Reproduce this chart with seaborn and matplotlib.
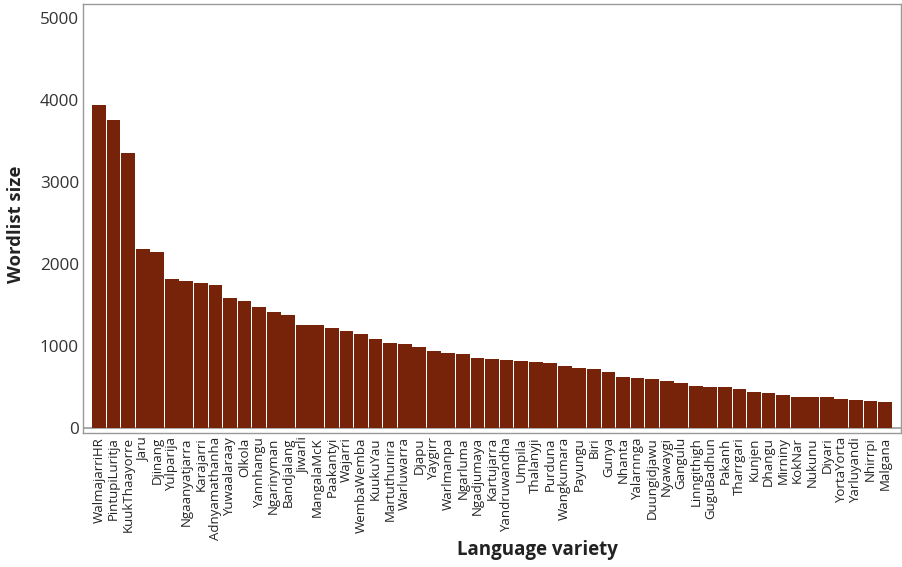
import matplotlib
matplotlib.use("Agg")
import matplotlib.pyplot as plt
import seaborn as sns
import pandas as pd

languages = ["WalmajarriHR", "PintupiLuritja", "KuukThaayorre", "Jaru", "Djinang", "Yulparija",
             "Ngaanyatjarra", "Karajarri", "Adnyamathanha", "Yuwaalaraay", "Olkola", "Yannhangu",
             "Ngarinyman", "Bandjalang", "Jiwarli", "MangalaMcK", "Paakantyi", "Wajarri",
             "WembaWemba", "KuukuYau", "Martuthunira", "Warluwarra", "Djapu", "Yaygirr",
             "Warlmanpa", "Ngarluma", "Ngadjumaya", "Kartujarra", "Yandruwandha", "Umpila",
             "Thalanyji", "Purduna", "Wangkumara", "Payungu", "Biri", "Gunya", "Nhanta",
             "Yalarnnga", "Duungidjawu", "Nyawaygi", "Gangulu", "Linngithigh", "GuguBadhun",
             "Pakanh", "Tharrgari", "Kunjen", "Dhangu", "Mirniny", "KokNar", "Nukunu", "Diyari",
             "YortaYorta", "Yarluyandi", "Nhirrpi", "Malgana"]
wordlist_size = [3939, 3756, 3354, 2183, 2146, 1817, 1793, 1768, 1744, 1585, 1549, 1476,
                 1415, 1378, 1256, 1256, 1220, 1183, 1146, 1085, 1037, 1024, 988, 939,
                 915, 902, 854, 841, 829, 817, 805, 793, 756, 732, 720, 683, 622,
                 610, 598, 573, 549, 512, 500, 500, 476, 439, 427, 402, 378, 378, 378,
                 354, 341, 329, 317]
y_ticks = [0, 1000, 2000, 3000, 4000, 5000]

df = pd.DataFrame({"Language variety": languages, "Wordlist size": wordlist_size})

sns.set_style("white")
plt.rcParams["font.family"] = ["Open Sans", "DejaVu Sans"]

fig = plt.figure(figsize=(9.02, 5.67), dpi=100)
ax = fig.add_axes([83 / 902, 1 - 433 / 567, (901 - 83) / 902, (433 - 4) / 567])

sns.barplot(data=df, x="Language variety", y="Wordlist size", color="#76230A",
            saturation=1, width=0.95, linewidth=0, ax=ax)

ax.set_xlim(-1.1, 55.1)
ax.set_ylim(-62, 5170)
ax.set_yticks(y_ticks)
ax.set_yticklabels([str(t) for t in y_ticks], fontsize=12.3, color="#333333")
ax.tick_params(axis="x", labelrotation=90, labelsize=9.5, labelcolor="#222222", length=0, pad=3)
ax.tick_params(axis="y", length=0, pad=3)
for lbl in ax.get_xticklabels():
    lbl.set_va("top")
ax.axhline(0, color="#999999", linewidth=1.2, zorder=0.5)

for s in ax.spines.values():
    s.set_visible(True)
    s.set_color("#999999")
    s.set_linewidth(1.0)

ax.set_xlabel("Language variety", fontsize=13.5, fontweight="bold", color="#222222")
ax.set_ylabel("Wordlist size", fontsize=13.3, fontweight="bold", color="#222222")
ax.xaxis.set_label_coords(0.555, -0.250)
ax.yaxis.set_label_coords(-0.071, 0.487)
ax.grid(False)

fig.savefig("out.png", dpi=100)
